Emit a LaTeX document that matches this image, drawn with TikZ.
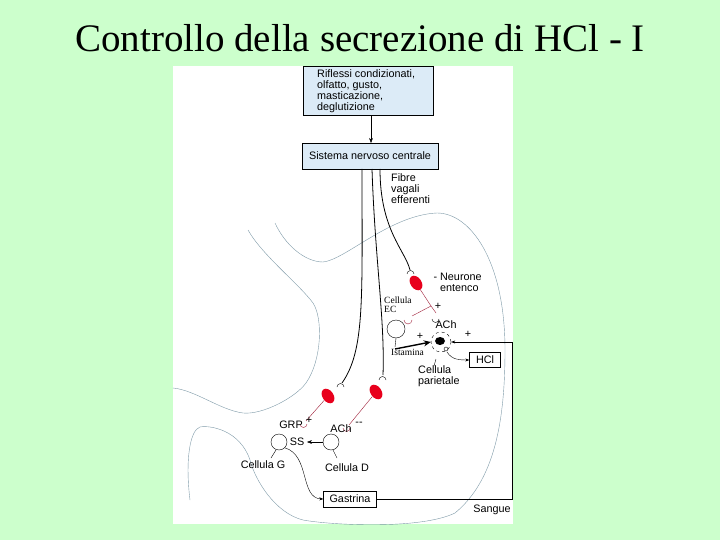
\documentclass[tikz,border=0pt]{standalone}
\usepackage{fontspec}
\setmainfont{Liberation Serif}
\newfontfamily\lsans{Liberation Sans}
\usetikzlibrary{arrows.meta,shapes.geometric}
\definecolor{bg}{HTML}{CCFFCC}
\definecolor{boxblue}{HTML}{DCEBF7}
\definecolor{organ}{HTML}{7F9AA8}
\definecolor{nred}{HTML}{E8001C}
\definecolor{axon}{HTML}{A0203A}
\begin{document}
\begin{tikzpicture}[x=1pt,y=-1pt,
  lbl/.style={font=\lsans\fontsize{10.8}{11}\selectfont,inner sep=0pt,align=left},
  ser/.style={font=\fontsize{9.5}{9}\selectfont,inner sep=0pt,align=left},
  bx/.style={draw,thin,inner sep=0pt},
  cell/.style={draw,thin,circle,minimum size=#1,inner sep=0pt},
  neur/.style={fill=nred,ellipse,inner sep=0pt,minimum width=11,minimum height=16,rotate=35},
  org/.style={draw=organ,thin},
  ax/.style={draw=axon,thin},
  nv/.style={draw,thick}]
\fill[bg] (0,0) rectangle (720,540);
\useasboundingbox (0,0) rectangle (720,540);
\fill[white] (173,66) rectangle (513,524);
\node[font=\fontsize{39}{40}\selectfont] (title) at (360,38) {Controllo della secrezione di HCl - I};
% organ outlines
\draw[org] (248,230) .. controls (262,255) and (300,285) .. (313,303) .. controls (323,318) and (322,360) .. (306,383) .. controls (295,398) and (262,415) .. (243,413) .. controls (220,410) and (195,390) .. (173,388);
\draw[org] (275,223) .. controls (285,245) and (305,262) .. (323,262) .. controls (345,260) and (390,215) .. (437,213) .. controls (470,213) and (505,260) .. (505,350) .. controls (505,420) and (495,480) .. (455,513) .. controls (420,530) and (330,525) .. (303,520) .. controls (275,513) and (255,480) .. (250,460) .. controls (240,430) and (210,425) .. (200,427) .. controls (190,430) and (185,460) .. (190,500);
% boxes
\node[bx,fill=boxblue,minimum width=130,minimum height=49,anchor=north west] (top) at (303,66) {};
\node[lbl,anchor=north west] (toptxt) at (317,69) {Riflessi condizionati,\\olfatto, gusto,\\masticazione,\\deglutizione};
\node[bx,fill=boxblue,minimum width=136,minimum height=26,anchor=north west] (snc) at (302,143) {};
\node[lbl] (snctxt) at (370,156) {Sistema nervoso centrale};
\draw[-{Stealth[length=5pt]}] (top.south -| 371,0) -- (snc.north -| 371,0);
\node[lbl,anchor=north west] (fibre) at (391,173) {Fibre\\vagali\\efferenti};
% neurons
\node[neur] (n1) at (416,283) {};
\node[neur] (n2) at (328,396) {};
\node[neur] (n3) at (376,392) {};
\draw[nv] (380,169) .. controls (380,230) and (405,250) .. (410,270);
\draw (407,274) arc (180:360:3.5);
\draw[nv] (362,169) .. controls (362,300) and (365,350) .. (342,383);
\draw (337,387) arc (180:360:3.5);
\draw[nv] (372,169) .. controls (375,260) and (385,320) .. (383,375);
\draw (379,380) arc (180:360:3.5);
\node[lbl,anchor=west] (neurone) at (440,282) {\makebox[0pt][r]{- }Neurone\\entenco};
% enteric axons
\draw[ax] (n1) -- (431,306) -- (436,313);
\draw[ax] (431,306) -- (412,316);
\draw (432,319) arc (180:0:3.5);
\draw[axon] (404,320) arc (180:0:4);
\node[lbl] (p1) at (438,306) {+};
\node[lbl] (ach1) at (446,325) {ACh};
% EC cell
\node[cell=18] (ec) at (396,329) {};
\node[ser,anchor=south west] (ectxt) at (384,313) {Cellula\\EC};
\draw (ec.south) -- (395,347);
\node[ser,anchor=north west] (ist) at (391,349) {Istamina};
\node[lbl] (p2) at (420,336) {+};
% parietal cell
\node[cell=20,dashed] (par) at (441,342) {};
\fill (440,341) ellipse (5 and 4);
\draw (446,349) circle (2);
\draw[-{Stealth[length=7pt,width=6pt]},line width=1.4pt] (395,349) -- (par.west);
\node[lbl] (p3) at (468,334) {+};
\node[bx,minimum width=31,minimum height=15,lbl] (hcl) at (485,360) {HCl};
\draw[-{Stealth[length=4pt]}] (447,352) .. controls (452,360) and (460,360) .. (hcl.west);
\draw (436,359) -- (434,366);
\node[lbl,anchor=north west] (cp) at (418,365) {Cellula\\parietale};
% G and D cells
\draw[ax] (n2) -- (306,421);
\draw[axon] (300,424) arc (180:0:3.5);
\draw[ax] (n3) -- (349,425);
\draw[axon] (343,428) arc (180:0:3.5);
\node[lbl] (grp) at (291,425) {GRP};
\node[lbl] (p4) at (309,420) {+};
\node[lbl] (ach2) at (341,429) {ACh};
\node[lbl] (m1) at (359,424) {--};
\node[cell=16] (g) at (279,442) {};
\node[cell=16] (d) at (331,442) {};
\node[lbl] (ss) at (297,442) {SS};
\draw[-{Stealth[length=5pt]}] (d.west) -- (307,442);
\draw (276,450) -- (271,458);
\node[lbl] (cg) at (263,465) {Cellula G};
\draw (333,450) -- (337,458);
\node[lbl] (cd) at (347,468) {Cellula D};
\node[bx,minimum width=53,minimum height=16,lbl] (gas) at (350,499) {Gastrina};
\draw[-{Stealth[length=4pt]}] (g.south east) .. controls (310,455) and (300,498) .. (gas.west);
\coordinate (c1) at (512,499);
\coordinate (c2) at (512,342);
\draw[-{Stealth[length=4pt]}] (gas.east) -- (c1) -- (c2) -- (par.east);
\node[lbl] (sang) at (492,510) {Sangue};
\end{tikzpicture}
\end{document}
